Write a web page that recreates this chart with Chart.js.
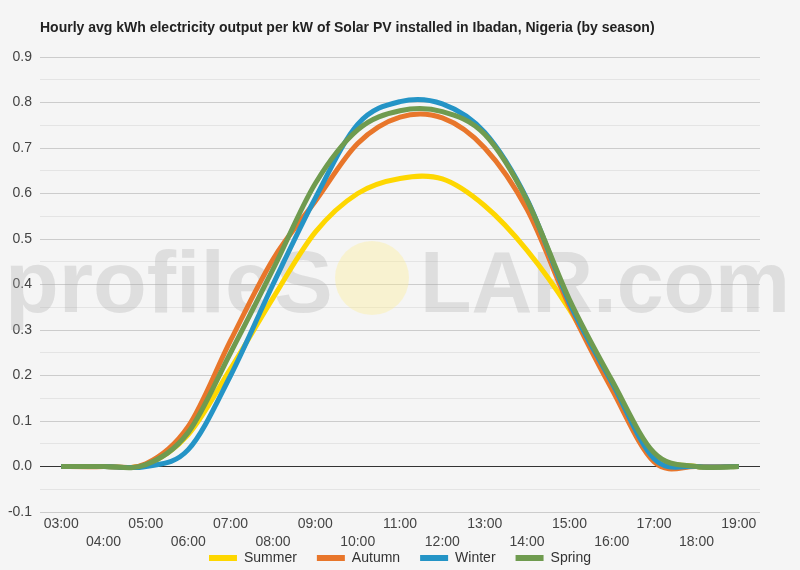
<!DOCTYPE html>
<html>
<head>
<meta charset="utf-8">
<script src="https://cdn.jsdelivr.net/npm/chart.js@4"></script>
<style>
    html, body { margin: 0; padding: 0; background: #f5f5f5; }
    canvas { display: block; }
</style>
</head>
<body>
<canvas id="solarChart" width="800" height="570"></canvas>
<script>
// Hours shown on the x axis
const hours = ["03:00", "04:00", "05:00", "06:00", "07:00", "08:00", "09:00", "10:00", "11:00",
    "12:00", "13:00", "14:00", "15:00", "16:00", "17:00", "18:00", "19:00"];

// kWh per kW
const summer = [0, 0, 0.004, 0.07, 0.215, 0.37, 0.515, 0.6, 0.633, 0.632, 0.573, 0.475, 0.345, 0.18, 0.028, 0, 0];
const autumn = [0, 0, 0.006, 0.088, 0.277, 0.455, 0.583, 0.71, 0.768, 0.766, 0.70, 0.565, 0.352, 0.17, 0.01, 0, 0];
const winter = [0, 0, 0, 0.037, 0.2, 0.4, 0.59, 0.752, 0.802, 0.797, 0.734, 0.587, 0.36, 0.185, 0.017, 0, 0];
const spring = [0, 0, 0.004, 0.075, 0.25, 0.433, 0.622, 0.74, 0.782, 0.78, 0.73, 0.585, 0.367, 0.19, 0.03, 0, 0];

const yMin = -0.1;
const yMax = 0.9;

const chartTitle = "Hourly avg kWh electricity output per kW of Solar PV installed in Ibadan, Nigeria (by season)";
const fontFamily = "'Liberation Sans', Arial, sans-serif";

// Title, profileSOLAR watermark and a bit of box shuffling after layout
const backdrop = {
    id: "backdrop",
    afterLayout(chart) {
        // let the two-row x labels draw below the scale box
        chart.scales.x.bottom = chart.height;
        // push the legend down a little
        chart.legend.top += 5;
        chart.legend.bottom += 5;
    },
    beforeDatasetsDraw(chart) {
        // even-handed (Catmull-Rom) smoothing instead of the distance weighted one
        chart.getSortedVisibleDatasetMetas().forEach(meta => {
            const pts = meta.data;
            pts.forEach((p, i) => {
                const prev = pts[i - 1] || p;
                const next = pts[i + 1] || p;
                const tx = (next.x - prev.x) / 6;
                const ty = (next.y - prev.y) / 6;
                p.cp1x = p.x - tx;
                p.cp1y = p.y - ty;
                p.cp2x = p.x + tx;
                p.cp2y = p.y + ty;
            });
            meta.dataset._pointsUpdated = true;
        });

        const ctx = chart.ctx;
        ctx.save();
        // yellow "O"
        ctx.fillStyle = "rgba(255, 238, 140, 0.35)";
        ctx.beginPath();
        ctx.arc(372, 278, 37, 0, Math.PI * 2);
        ctx.fill();
        // grey letters
        ctx.fillStyle = "rgba(170, 170, 170, 0.3)";
        ctx.font = "bold 88px " + fontFamily;
        ctx.textBaseline = "alphabetic";
        ctx.textAlign = "left";
        ctx.fillText("profileS", 5, 312, 328);
        ctx.fillText("LAR.com", 420, 312, 370);
        ctx.restore();
    },
    afterDraw(chart) {
        const ctx = chart.ctx;
        ctx.save();
        ctx.fillStyle = "#222";
        ctx.font = "bold 14px " + fontFamily;
        ctx.textBaseline = "middle";
        ctx.fillText(chartTitle, 40, 28);
        ctx.restore();
    }
};

function series(label, values, color, order) {
    return {
        label: label,
        data: values,
        borderColor: color,
        backgroundColor: color,
        borderWidth: 5,
        pointRadius: 0,
        tension: 0.4,
        order: order
    };
}

new Chart(document.getElementById("solarChart"), {
    type: "line",
    data: {
        labels: hours,
        datasets: [
            series("Summer", summer, "#fed700", 3),
            series("Autumn", autumn, "#e8762b", 2),
            series("Winter", winter, "#2494c6", 1),
            series("Spring", spring, "#6f9b4f", 0)
        ]
    },
    options: {
        responsive: false,
        devicePixelRatio: 1,
        animation: false,
        layout: { padding: { top: 57, right: 40, left: 0, bottom: 0 } },
        plugins: {
            title: { display: false },
            tooltip: { enabled: false },
            legend: {
                position: "bottom",
                fullSize: false,
                labels: {
                    boxWidth: 28,
                    boxHeight: 6,
                    padding: 20,
                    color: "#333",
                    font: { family: fontFamily, size: 14 },
                    sort: (a, b) => a.datasetIndex - b.datasetIndex,
                    generateLabels: (chart) =>
                        Chart.defaults.plugins.legend.labels.generateLabels(chart)
                            .map(item => Object.assign(item, { lineWidth: 0 }))
                }
            }
        },
        scales: {
            x: {
                offset: true,
                grid: { display: false, drawTicks: false },
                border: { display: false },
                afterFit(scale) { scale.height = 14; },
                ticks: {
                    autoSkip: false,
                    maxRotation: 0,
                    padding: 3,
                    color: "#444",
                    font: { family: fontFamily, size: 14, lineHeight: 1.3 },
                    callback(value, index) {
                        const lbl = this.getLabelForValue(value);
                        return index % 2 === 0 ? lbl : ["", lbl];
                    }
                }
            },
            y: {
                min: yMin,
                max: yMax,
                afterFit(scale) { scale.width = 40; },
                border: { display: false },
                grid: {
                    drawTicks: false,
                    lineWidth: 1,
                    color(ctx) {
                        const v = Math.round(ctx.tick.value * 100);
                        if (v === 0) return "#333";
                        return v % 10 === 0 ? "#cccccc" : "#e4e4e4";
                    }
                },
                ticks: {
                    stepSize: 0.05,
                    padding: 8,
                    color: "#444",
                    font: { family: fontFamily, size: 14 },
                    callback(value) {
                        const v = Math.round(value * 100);
                        return v % 10 === 0 ? (v / 100).toFixed(1) : "";
                    }
                }
            }
        }
    },
    plugins: [backdrop]
});
</script>
</body>
</html>
